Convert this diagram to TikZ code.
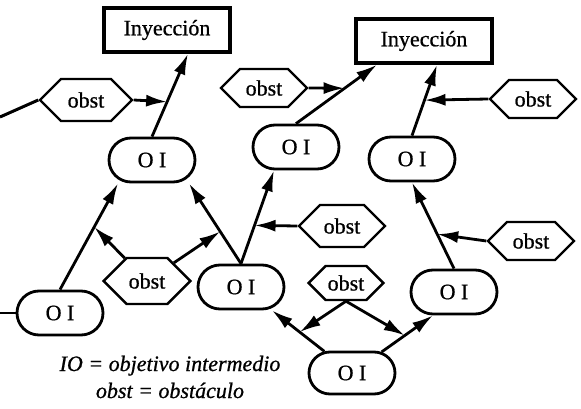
\documentclass[tikz,border=0pt]{standalone}
\usepackage{fontspec}
\setmainfont{Liberation Serif}[FakeBold=0.8]
\usepackage{tikz}
\usetikzlibrary{shapes.misc, shapes.symbols, arrows.meta, positioning}
\tikzset{
  goal/.style = {
    rectangle, draw, line width=3.4pt,
    minimum width=126pt, minimum height=44pt, inner sep=2pt
  },
  oi/.style = {
    rounded rectangle, draw, line width=2.8pt,
    minimum width=90pt, minimum height=44pt, inner sep=2pt
  },
  obst/.style = {
    signal, signal to=east and west, signal pointer angle=90,
    draw, line width=2.4pt,
    minimum width=86pt, minimum height=38pt, inner sep=2pt
  },
  arr/.style = {-{Latex[length=21pt,width=12pt]}, line width=2.8pt}
}

\begin{document}
\begin{tikzpicture}[
  x=1pt, y=-1pt,
  on grid,
  every node/.style={font=\fontsize{22}{26}\selectfont}
]
\useasboundingbox (0,0) rectangle (581,409);

%% ── Top: injection goals ─────────────────────────────
\node[goal] (inj1) at (167,30) {Inyección};
\node[goal, minimum width=136pt, right=257pt of inj1, yshift=-11pt]
  (inj2) {Inyección};

%% ── Upper row of intermediate goals ──────────────────
\node[oi, below=130pt of inj1, xshift=-15pt] (OI1) {O I};
\node[oi, right=144pt of OI1, yshift=13pt] (OI2) {O I};
\node[oi, right=116pt of OI2, yshift=-12pt] (OI3) {O I};

\node[obst, minimum width=92pt, minimum height=42pt,
      above left=60pt and 66pt of OI1] (obstL) {obst};
\node[obst, above=59pt of OI2, xshift=-32pt] (obstM) {obst};
\node[obst, above right=60pt and 121pt of OI3] (obstR) {obst};

%% ── Lower row ────────────────────────────────────────
\node[oi, below left=153pt and 92pt of OI1] (OI4) {O I};
\node[obst, minimum height=46pt, right=87pt of OI4, yshift=32pt]
  (obst4) {obst};
\node[oi, right=94pt of obst4, yshift=-6pt] (OI5) {O I};
\node[obst, minimum height=42pt,
      above right=61pt and 101pt of OI5] (obst5) {obst};
\node[obst, minimum width=74pt, minimum height=34pt,
      below=57pt of obst5, xshift=4pt] (obst6) {obst};
\node[oi, minimum height=42pt, below=90pt of obst6, xshift=6pt]
  (OI6) {O I};
\node[oi, above right=81pt and 102pt of OI6] (OI7) {O I};
\node[obst, above right=51pt and 77pt of OI7] (obst7) {obst};

%% ── Legend ───────────────────────────────────────────
\node[align=center, font=\fontsize{22}{27}\selectfont\itshape,
      below right=64pt and 110pt of OI4]
  (legend) {IO = objetivo intermedio\\obst = obstáculo};

%% ── Loose ends ───────────────────────────────────────
\coordinate (inL) at (0,117);
\coordinate (inB) at (0,313);
\draw[line width=3pt] (inL) -- (obstL.west);
\draw[line width=2.4pt] (inB) -- (OI4.west);

%% ── Arrows ───────────────────────────────────────────
\draw[arr] (OI1.north) -- coordinate[pos=0.42] (j1)
  ([xshift=21pt]inj1.south);
\draw[arr] (obstL.east) -- (j1);

\draw[arr] (OI2.north) -- coordinate[pos=0.6] (j2)
  ([xshift=-47pt]inj2.south);
\draw[arr] (obstM.east) -- (j2);

\draw[arr] (OI3.north) -- coordinate[pos=0.5] (j3)
  ([xshift=13pt]inj2.south);
\draw[arr] (obstR.west) -- (j3);

\draw[arr] (OI4.north) -- coordinate[pos=0.59] (j4)
  ([xshift=-34pt]OI1.south);
\draw[arr] (obst4) -- (j4);

\draw[arr] (OI5.north) -- coordinate[pos=0.4] (j5)
  ([xshift=37pt]OI1.south);
\draw[arr] (obst4) -- (j5);

\draw[arr] (OI5.north) -- coordinate[pos=0.41] (j6)
  ([xshift=-22pt]OI2.south);
\draw[arr] (obst5.west) -- (j6);

\draw[arr] (OI6) -- coordinate[pos=0.47] (j8)
  ([xshift=31pt]OI5.south);
\draw[arr] (OI6) -- coordinate[pos=0.45] (j9)
  ([xshift=-21pt]OI7.south);
\draw[arr] (obst6.south) -- (j8);
\draw[arr] (obst6.south) -- (j9);

\draw[arr] (OI7.north) -- coordinate[pos=0.4] (j7) (OI3.south);
\draw[arr] (obst7.west) -- (j7);

\end{tikzpicture}
\end{document}
